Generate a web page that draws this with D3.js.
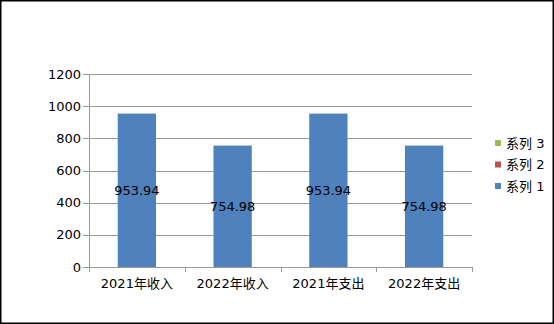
<!DOCTYPE html>
<html>
<head>
<meta charset="utf-8">
<script src="https://cdn.jsdelivr.net/npm/d3@7"></script>
<style>
  body { margin: 0; background: #fff; }
  text { font-family: "DejaVu Sans", "Noto Sans CJK SC", sans-serif; }
</style>
</head>
<body>
<svg id="chart" width="554" height="324"></svg>
<script>
const categories = ['2021年收入', '2022年收入', '2021年支出', '2022年支出'];
const series1 = [953.94, 754.98, 953.94, 754.98];
const seriesNames = ['系列 3', '系列 2', '系列 1'];
const seriesColors = ['#9BBB59', '#C0504D', '#4F81BD'];
const yTicks = [0, 200, 400, 600, 800, 1000, 1200];

const svg = d3.select('#chart');
const conf = { left: 89, right: 472, top: 74, bottom: 267 };

svg.append('rect')
  .attr('x', 0.75).attr('y', 0.75)
  .attr('width', 552.5).attr('height', 322.5)
  .attr('fill', '#fff').attr('stroke', '#000').attr('stroke-width', 1.5);

const x = d3.scaleBand().domain(categories).range([conf.left, conf.right]);
const y = d3.scaleLinear().domain([0, 1200]).range([conf.bottom, conf.top]);

// gridlines
svg.append('g')
  .selectAll('line')
  .data(yTicks)
  .enter()
  .append('line')
  .attr('x1', conf.left - 6).attr('x2', conf.right)
  .attr('y1', d => Math.round(y(d)) + 0.5).attr('y2', d => Math.round(y(d)) + 0.5)
  .attr('stroke', '#999').attr('stroke-width', 1);

svg.append('g')
  .selectAll('text')
  .data(yTicks)
  .enter()
  .append('text')
  .text(d => d)
  .attr('x', conf.left - 8)
  .attr('y', d => y(d))
  .attr('text-anchor', 'end')
  .attr('dominant-baseline', 'central')
  .attr('font-size', 13)
  .attr('fill', '#000');

// bars
const bw = x.bandwidth() * 0.4;
svg.append('g')
  .selectAll('rect')
  .data(series1)
  .enter()
  .append('rect')
  .attr('x', (d, i) => x(categories[i]) + (x.bandwidth() - bw) / 2)
  .attr('y', d => y(d))
  .attr('width', bw)
  .attr('height', d => conf.bottom - y(d))
  .attr('fill', '#4F81BD');

svg.append('g')
  .selectAll('text')
  .data(series1)
  .enter()
  .append('text')
  .text(d => d.toFixed(2))
  .attr('x', (d, i) => x(categories[i]) + x.bandwidth() / 2)
  .attr('y', d => (y(d) + conf.bottom) / 2)
  .attr('text-anchor', 'middle')
  .attr('dominant-baseline', 'central')
  .attr('font-size', 13)
  .attr('fill', '#000');

// axes
svg.append('line')
  .attr('x1', conf.left + 0.5).attr('x2', conf.left + 0.5)
  .attr('y1', conf.top).attr('y2', conf.bottom + 5)
  .attr('stroke', '#999');
const bounds = categories.map(c => x(c)).concat([conf.right]);
svg.append('g')
  .selectAll('line')
  .data(bounds)
  .enter()
  .append('line')
  .attr('x1', d => Math.round(d) + 0.5).attr('x2', d => Math.round(d) + 0.5)
  .attr('y1', conf.bottom).attr('y2', conf.bottom + 5)
  .attr('stroke', '#999');

svg.append('g')
  .selectAll('text')
  .data(categories)
  .enter()
  .append('text')
  .text(d => d)
  .attr('x', d => x(d) + x.bandwidth() / 2)
  .attr('y', 283)
  .attr('text-anchor', 'middle')
  .attr('dominant-baseline', 'central')
  .attr('font-size', 13)
  .attr('fill', '#000');

// legend
const legend = svg.append('g').selectAll('g')
  .data(seriesNames)
  .enter()
  .append('g')
  .attr('transform', (d, i) => 'translate(495,' + (143 + i * 21.5) + ')');
legend.append('rect')
  .attr('x', 0).attr('y', -3).attr('width', 6).attr('height', 6)
  .attr('fill', (d, i) => seriesColors[i]);
legend.append('text')
  .text(d => d)
  .attr('x', 11).attr('y', 0)
  .attr('dominant-baseline', 'central')
  .attr('font-size', 13)
  .attr('fill', '#000');
</script>
</body>
</html>
